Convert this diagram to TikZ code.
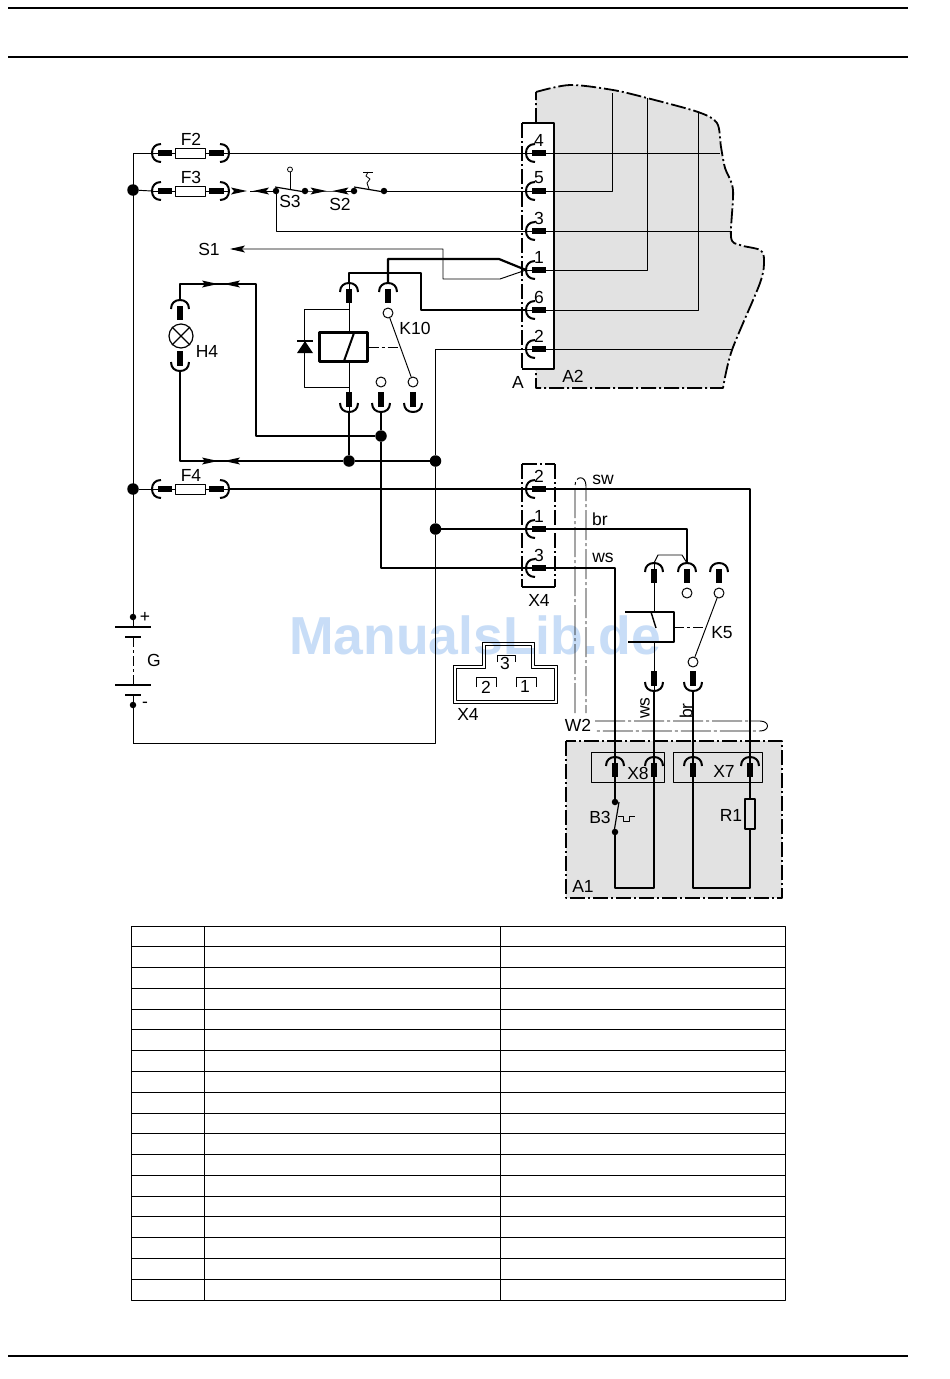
\documentclass[tikz,border=0pt]{standalone}
\usepackage{fontspec}
\setmainfont{Liberation Sans}
\definecolor{boxgray}{HTML}{E2E2E2}
\definecolor{markblue}{HTML}{C8DDF7}
\tikzset{
    pinc/.pic={
        \draw[line width=2pt] (-9,9) .. controls (-9,3) and (-5,0) .. (0,0) .. controls (5,0) and (9,3) .. (9,9);
        \fill (-2.8,5.5) rectangle (2.8,20);
    },
    jackc/.pic={
        \fill (-19,-3.5) -- (-16,0) -- (-19,3.5) -- (-3,0) -- cycle;
        \fill (19,-3.5) -- (16,0) -- (19,3.5) -- (3,0) -- cycle;
    },
}
\begin{document}
\begin{tikzpicture}[line cap=butt,line join=round,x=1pt,y=-1pt,
    every node/.style={font=\fontsize{17.5}{19}\selectfont, inner sep=0pt},
    thinw/.style={line width=0.95pt},
    thickw/.style={line width=2.2pt},
    dashb/.style={line width=1.8pt, dash pattern=on 15pt off 3pt on 2pt off 3pt},
    dashc/.style={line width=0.95pt, dash pattern=on 30pt off 3pt on 3pt off 3pt},
    dashk/.style={line width=0.95pt, dash pattern=on 10pt off 3pt on 3pt off 3pt},
    dotj/.style={circle, fill=black, minimum size=11.5pt},
    dots/.style={circle, fill=black, minimum size=6.5pt},
    ringc/.style={circle, draw, fill=white, line width=1pt, minimum size=10pt},
    fuse/.style={draw, line width=1pt, minimum width=30pt, minimum height=10pt},
    coilb/.style={draw, fill=white, line width=2.4pt, minimum width=48pt, minimum height=29pt},
    pinbox/.style={draw, line width=0.95pt, minimum height=30pt},
    ]
    \useasboundingbox (0,0) rectangle (950,1379);
    \fill[white] (0,0) rectangle (950,1379);

    % page rules
    \draw[line width=1.5pt] (8,8) -- (908,8);
    \draw[line width=1.5pt] (8,57) -- (908,57);
    \draw[line width=1.5pt] (8,1356) -- (908,1356);

    \node[text=markblue, font=\fontsize{53.5}{54}\selectfont\bfseries] (wm) at (475,635) {ManualsLib.de};

    % housings
    \fill[boxgray] plot[smooth] coordinates {(536,92) (570,85) (613,90) (647,98) (698,112) (717,123) (721,147) (725,168) (733,190) (731,237) (740,245) (760,250) (764,260) (760,283) (732,350) (723,388)} -- (536,388) -- cycle;
    \draw[dashb] (536,123) -- (536,92) plot[smooth] coordinates {(536,92) (570,85) (613,90) (647,98) (698,112) (717,123) (721,147) (725,168) (733,190) (731,237) (740,245) (760,250) (764,260) (760,283) (732,350) (723,388)} -- (536,388) -- (536,369);
    \fill[white] (522,123) rectangle (554,369);
    \draw[line width=1.8pt] (522,123) -- (554,123) -- (554,369) -- (522,369);
    \draw[dashb] (522,123) -- (522,369);

    \draw[dashb, fill=boxgray] (566,741) rectangle (782,898);
    \node[pinbox, minimum width=73pt] (x8) at (627.5,767) {};
    \node[pinbox, minimum width=89pt] (x7) at (717.5,767) {};

    \draw[dashb] (522,464) -- (522,587);
    \draw[dashb] (555,464) -- (555,587);
    \draw[dashb] (522,464) -- (555,464);
    \draw[line width=1.8pt] (522,587) -- (555,587);

    % cable W2
    \coordinate (w1) at (575,713);
    \coordinate (w2) at (575,486);
    \coordinate (w3) at (586,486);
    \coordinate (w4) at (586,713);
    \coordinate (w5) at (595,721);
    \coordinate (w6) at (760,721);
    \coordinate (w7) at (760,731);
    \coordinate (w8) at (595,731);
    \draw[dashc] (w1) -- (w2) .. controls (575,475) and (586,475) .. (w3) -- (w4);
    \draw[dashc] (w5) -- (w6) .. controls (770,721) and (770,731) .. (w7) -- (w8);

    % pins at A
    \foreach \n/\yy in {4/153,5/191,3/231,1/270,6/310,2/349}{
        \coordinate (a\n) at (526,\yy);
        \node (na\n) at (539,\yy-13) {\n};
    }
    \coordinate (e4) at (720,153);
    \coordinate (e5) at (612,93);
    \coordinate (e3) at (732,231);
    \coordinate (e1) at (647,98);
    \coordinate (e6) at (698,112);
    \coordinate (e2) at (732,349);
    \draw[thinw] (a4) -- (e4);
    \draw[thinw] (a5) -| (e5);
    \draw[thinw] (a3) -- (e3);
    \draw[thinw] (a1) -| (e1);
    \draw[thinw] (a6) -| (e6);
    \draw[thinw] (a2) -- (e2);

    % fuses
    \foreach \n/\yy in {2/153,3/191,4/489}{
        \coordinate (fa\n) at (152,\yy);
        \coordinate (fb\n) at (229,\yy);
        \node[fuse] (f\n) at (190,\yy) {};
        \node (nf\n) at (191,\yy-14) {F\n};
        \draw[thinw] (fa\n) -- (f\n) -- (fb\n);
    }
    \draw[thinw] (fb2) -- (a4);

    \node[dotj] (d1) at (133,190) {};
    \node[dotj] (d5) at (133,489) {};
    \node[dots] (gp) at (133,617) {};
    \node[dots] (gm) at (133,705) {};
    \coordinate (bt) at (133,153);
    \coordinate (gb) at (133,743);
    \draw[thinw] (fa2) -- (bt) -- (gp);
    \draw[thinw] (d1) -- (fa3);
    \draw[thinw] (d5) -- (fa4);
    \draw[thinw] (gm) -- (gb);

    % battery
    \coordinate (g1) at (133,637);
    \coordinate (g2) at (133,685);
    \draw[thinw] (gp) -- (133,627);
    \draw[line width=2pt] (115,627) -- (151,627);
    \draw[line width=2pt] (125,637) -- (141,637);
    \draw[dashk] (g1) -- (g2);
    \draw[line width=2pt] (115,685) -- (151,685);
    \draw[line width=2pt] (125,695) -- (141,695);
    \draw[thinw] (133,695) -- (gm);
    \node (np) at (145,617) {+};
    \node (nm) at (145,705) {-};
    \node (ng) at (154,660) {G};

    % S3 and S2
    \coordinate (pa) at (250,191);
    \coordinate (pb) at (329.5,191);
    \node[dots] (s3a) at (276,191) {};
    \node[dots] (s3b) at (305,191) {};
    \node[dots] (s2a) at (354,191) {};
    \node[dots] (s2b) at (384,191) {};
    \draw[thinw] (pa) -- (s3a);
    \draw[thinw] (s3b) -- (pb) -- (s2a);
    \draw[thinw] (s2b) -- (a5);
    \draw[thinw] (s3a) |- (a3);
    \draw[line width=1.2pt] (275,187) -- (305,192);
    \draw[line width=1.2pt] (354,187) -- (384,192);
    \node[ringc, minimum size=5pt, line width=0.8pt] (s3k) at (290,169.5) {};
    \draw[thinw] (s3k) -- (290,189);
    \draw[thinw] (363,172) -- (373,172);
    \draw[line width=0.8pt] (368,172) -- (366,176) -- (370,179) -- (367,183) -- (369,189);
    \pic at (pa) {jackc};
    \pic at (pb) {jackc};
    \node (ns3) at (290,201) {S3};
    \node (ns2) at (340,204) {S2};

    % S1 feed
    \coordinate (j1) at (443,249);
    \coordinate (j2) at (443,279);
    \coordinate (j3) at (500,279);
    \coordinate (s1t) at (232,249);
    \draw[thinw] (s1t) -- (j1) -- (j2) -- (j3) -- (a1);
    \fill (230,249) -- (245,245.5) -- (242,249) -- (245,252.5) -- cycle;
    \node (ns1) at (209,249) {S1};

    % relay K10
    \coordinate (kc) at (349,283);
    \coordinate (kt) at (388,283);
    \coordinate (kb) at (349,412);
    \coordinate (km) at (381,412);
    \coordinate (kr) at (413,412);
    \coordinate (j4) at (388,259);
    \coordinate (j5) at (499,259);
    \coordinate (j6) at (349,273);
    \coordinate (j7) at (421,273);
    \coordinate (j8) at (421,310);
    \coordinate (dt) at (349,309);
    \coordinate (db) at (349,387);
    \coordinate (dl1) at (304.5,309);
    \coordinate (dl2) at (304.5,387);
    \coordinate (kl) at (400,347);
    \node[dotj] (d2) at (381,436) {};
    \node[dotj] (d3) at (349,461) {};
    \node[dotj] (d4) at (435.5,461) {};
    \node[dotj] (d6) at (435.5,529) {};
    \draw[thinw] (dt) -- (dl1) -- (dl2) -- (db);
    \draw[thinw] (kc) -- (kb);
    \node[coilb] (k10) at (343.5,347) {};
    \draw[line width=2pt] (354,333) -- (344,361);
    \fill (297,353) -- (313,353) -- (305,341) -- cycle;
    \draw[line width=1.1pt] (297,341) -- (313,341);
    \node[ringc] (r1) at (388,313) {};
    \node[ringc] (r2) at (381,382) {};
    \node[ringc] (r3) at (413,382) {};
    \draw[thinw] (r1) -- (r3);
    \draw[dashk] (k10.east) -- (kl);
    \node (nk10) at (415,328) {K10};

    \draw[thickw] (kt) -- (j4) -- (j5) -- (a1);
    \draw[thickw] (kc) -- (j6) -- (j7) -- (j8) -- (a6);
    \draw[thickw] (kb) -- (d3);

    % lamp H4
    \coordinate (hu) at (180,300);
    \coordinate (hd) at (180,371);
    \coordinate (h1) at (256,284);
    \coordinate (h2) at (221,284);
    \coordinate (h3) at (221,461);
    \node[circle, draw, line width=1.2pt, minimum size=24pt] (h4) at (181,336) {};
    \draw[line width=1.2pt] (h4.45) -- (h4.225);
    \draw[line width=1.2pt] (h4.135) -- (h4.-45);
    \draw[thickw] (hu) |- (h1) |- (d2);
    \draw[thickw] (hd) |- (d3) -- (d4);
    \pic at (h2) {jackc};
    \pic at (h3) {jackc};
    \node (nh4) at (207,351) {H4};

    % X4 pins
    \foreach \n/\yy in {2/489,1/529,3/568}{
        \coordinate (x\n) at (526,\yy);
        \node (nx\n) at (539,\yy-13) {\n};
    }
    \node (nx4) at (539,600) {X4};
    \node (nsw) at (603,480) {sw};
    \node (nbr) at (600,519) {br};
    \node (nws) at (603,558) {ws};

    % relay K5
    \coordinate (ka) at (654,563);
    \coordinate (kd) at (687,563);
    \coordinate (ke) at (719,563);
    \coordinate (kf) at (654,691);
    \coordinate (kg) at (693,691);
    \coordinate (c5t) at (654,612);
    \coordinate (c5b) at (654,642);
    \coordinate (c5e) at (674,627);
    \coordinate (c5l) at (703,627);
    \coordinate (l1) at (658,555);
    \coordinate (l2) at (682,555);
    \coordinate (q1) at (615,757);
    \coordinate (q2) at (654,757);
    \coordinate (q3) at (693,757);
    \coordinate (q4) at (750,757);
    \draw[thinw] (ka) -- (l1) -- (l2) -- (kd);
    \draw[thinw] (ka) -- (c5t);
    \draw[thinw] (c5b) -- (kf);
    \draw[line width=2.2pt] (625,612) -- (674,612) -- (674,642) -- (628,642);
    \draw[line width=1.4pt] (651,612) -- (656,628);
    \node[ringc] (r4) at (687,593) {};
    \node[ringc] (r5) at (719,593) {};
    \node[ringc] (r6) at (693,662) {};
    \draw[thinw] (r5) -- (r6);
    \draw[dashk] (c5e) -- (c5l);
    \node (nk5) at (722,633) {K5};

    \draw[thinw] (a2) -| (d4) -- (d6);
    \draw[thinw] (d6) |- (gb);
    \draw[thickw] (km) -- (d2) |- (x3) -| (q1);
    \draw[thickw] (fb4) -- (x2) -| (q4);
    \draw[thickw] (d6) -- (x1) -| (kd);
    \draw[thickw] (kf) -- (q2);
    \draw[thickw] (kg) -- (q3);
    \node[rotate=90] (nws2) at (645,708) {ws};
    \node[rotate=90] (nbr2) at (686,711) {br};
    \node (nw2) at (578,725) {W2};

    % plug X4
    \draw[line width=0.75pt] (453,703) -- (453,665) -- (482,665) -- (482,642) -- (534,642) -- (534,665) -- (557,665) -- (557,703) -- cycle;
    \draw[line width=0.75pt] (456,700) -- (456,668) -- (485,668) -- (485,645) -- (531,645) -- (531,668) -- (554,668) -- (554,700) -- cycle;
    \draw[line width=0.8pt] (497,662) -- (497,655) -- (515,655) -- (515,662);
    \draw[line width=0.8pt] (476,687) -- (476,677) -- (496,677) -- (496,687);
    \draw[line width=0.8pt] (516,687) -- (516,677) -- (536,677) -- (536,687);
    \node (np3) at (505,663) {3};
    \node (np2) at (486,687) {2};
    \node (np1) at (525,686) {1};
    \node (npx) at (468,714) {X4};

    % inside A1
    \node[dots] (b3a) at (615,802) {};
    \node[dots] (b3b) at (615,832) {};
    \coordinate (u1) at (615,888);
    \coordinate (u2) at (654,888);
    \coordinate (u3) at (693,888);
    \coordinate (u4) at (750,888);
    \node[draw, line width=1.6pt, minimum width=10pt, minimum height=30pt] (r1b) at (750,814) {};
    \draw[thickw] (q1) -- (b3a);
    \draw[thickw] (b3b) -- (u1) -- (u2) -- (q2);
    \draw[thickw] (q3) -- (u3) -- (u4) -- (r1b) -- (q4);
    \draw[line width=1.2pt] (619,802) -- (614,832);
    \draw[line width=0.8pt] (618,816) -- (623,816) -- (623,821) -- (629,821) -- (629,816) -- (635,816);
    \node (nb3) at (600,817) {B3};
    \node (nr1) at (731,815) {R1};
    \node (nx8) at (638,773) {X8};
    \node (nx7) at (724,771) {X7};
    \node (na1) at (583,886) {A1};
    \node (naa) at (518,382) {A};
    \node (na2) at (573,376) {A2};

    % terminals
    \foreach \p in {a4,a5,a3,a1,a6,a2,x2,x1,x3,fa2,fa3,fa4}{
        \pic[rotate=90] at (\p) {pinc};
    }
    \foreach \p in {fb2,fb3,fb4}{
        \pic[rotate=-90] at (\p) {pinc};
    }
    \foreach \p in {hu,kc,kt,ka,kd,ke,q1,q2,q3,q4}{
        \pic at (\p) {pinc};
    }
    \foreach \p in {hd,kb,km,kr,kf,kg}{
        \pic[rotate=180] at (\p) {pinc};
    }

    % table
    \draw[line width=0.95pt] (131,926) rectangle (785,1300);
    \draw[line width=0.95pt] (204,926) -- (204,1300);
    \draw[line width=0.95pt] (500,926) -- (500,1300);
    \foreach \i in {1,...,17}{
        \draw[line width=0.95pt] (131,926+\i*20.78) -- (785,926+\i*20.78);
    }
\end{tikzpicture}
\end{document}
